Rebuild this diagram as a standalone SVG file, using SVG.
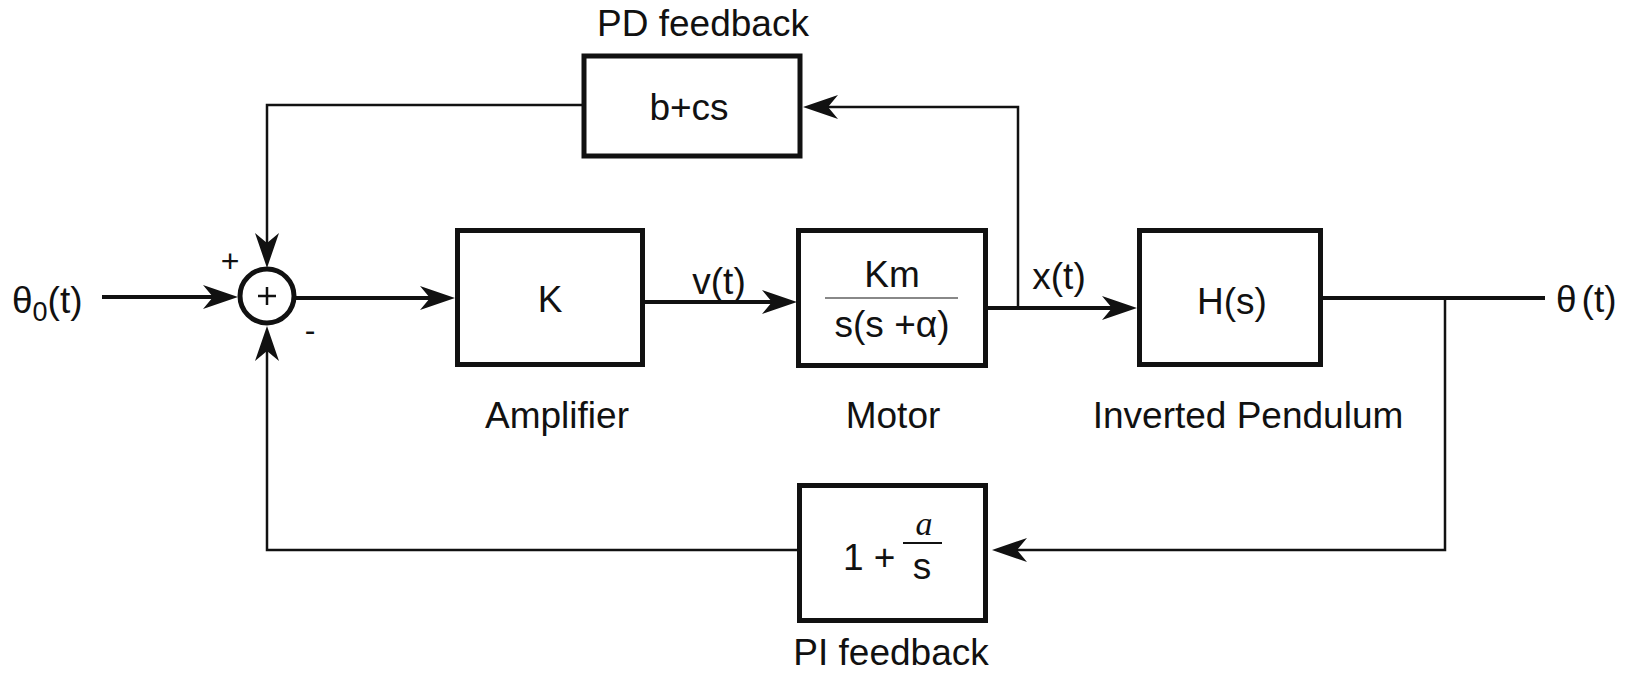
<svg xmlns="http://www.w3.org/2000/svg" width="1635" height="674" viewBox="0 0 1635 674">
<style>
.box{fill:#fff;stroke:#111;stroke-width:5}
.t{font-family:"Liberation Sans",Arial,sans-serif;font-size:37px;fill:#111}
.main{fill:none;stroke:#111;stroke-width:4}
.fb{fill:none;stroke:#111;stroke-width:2.5}
</style>
<defs>
<marker id="arr" markerUnits="userSpaceOnUse" markerWidth="60" markerHeight="40" viewBox="-40 -20 60 40" refX="-16" refY="0" orient="auto">
<path d="M0,0 L-35,-12 L-25,0 L-35,12 Z" fill="#111"/>
</marker>
</defs>
<rect width="1635" height="674" fill="#fff"/>
<g id="connectors">
<path class="main" d="M102,297 H222" marker-end="url(#arr)"/>
<path class="main" d="M295,298 H439" marker-end="url(#arr)"/>
<path class="main" d="M645,302 H781" marker-end="url(#arr)"/>
<path class="main" d="M988,308 H1121" marker-end="url(#arr)"/>
<path class="main" d="M1323,298 H1545"/>
<path class="fb" d="M1018,308 V107 H819" marker-end="url(#arr)"/>
<path class="fb" d="M582,105 H267 V252" marker-end="url(#arr)"/>
<path class="fb" d="M1445,298 V550 H1008" marker-end="url(#arr)"/>
<path class="fb" d="M797,550 H267 V342" marker-end="url(#arr)"/>
</g>
<g id="input">
<text class="t" x="12" y="313">θ<tspan font-size="27" dy="8">0</tspan><tspan dy="-8">(t)</tspan></text>
</g>
<g id="sum">
<circle cx="267" cy="296" r="27" fill="#fff" stroke="#111" stroke-width="5"/>
<path d="M258,296 H276 M267,287 V305" stroke="#111" stroke-width="2.5"/>
<text class="t" x="230" y="272" style="font-size:32px" text-anchor="middle">+</text>
<text class="t" x="310" y="341" style="font-size:32px" text-anchor="middle">-</text>
</g>
<g id="pd">
<rect class="box" x="584" y="56" width="216" height="100"/>
<text class="t" x="689" y="120" text-anchor="middle">b+cs</text>
<text class="t" x="703" y="36" text-anchor="middle">PD feedback</text>
</g>
<g id="amplifier">
<rect class="box" x="457.5" y="230.5" width="185" height="134"/>
<text class="t" x="550" y="312" text-anchor="middle">K</text>
<text class="t" x="557" y="428" text-anchor="middle">Amplifier</text>
<text class="t" x="719" y="294" text-anchor="middle">v(t)</text>
</g>
<g id="motor">
<rect class="box" x="798.5" y="230.5" width="187" height="135"/>
<text class="t" x="892" y="287" text-anchor="middle">Km</text>
<line x1="825" y1="298" x2="958" y2="298" stroke="#888" stroke-width="2"/>
<text class="t" x="892" y="337" text-anchor="middle">s(s +α)</text>
<text class="t" x="893" y="428" text-anchor="middle">Motor</text>
<text class="t" x="1059" y="289" text-anchor="middle">x(t)</text>
</g>
<g id="pendulum">
<rect class="box" x="1139.5" y="230.5" width="181" height="134"/>
<text class="t" x="1232" y="314" text-anchor="middle">H(s)</text>
<text class="t" x="1248" y="428" text-anchor="middle">Inverted Pendulum</text>
</g>
<g id="output">
<text class="t" x="1556" y="312">θ<tspan dx="5">(t)</tspan></text>
</g>
<g id="pi">
<rect class="box" x="799.5" y="485.5" width="186" height="135"/>
<text class="t" x="843" y="570">1 +</text>
<text x="924" y="535" text-anchor="middle" font-family="'Liberation Serif','Times New Roman',serif" font-style="italic" font-size="34" fill="#111">a</text>
<line x1="903" y1="543" x2="942" y2="543" stroke="#111" stroke-width="2"/>
<text class="t" x="922" y="579" text-anchor="middle">s</text>
<text class="t" x="891" y="665" text-anchor="middle">PI feedback</text>
</g>
</svg>
